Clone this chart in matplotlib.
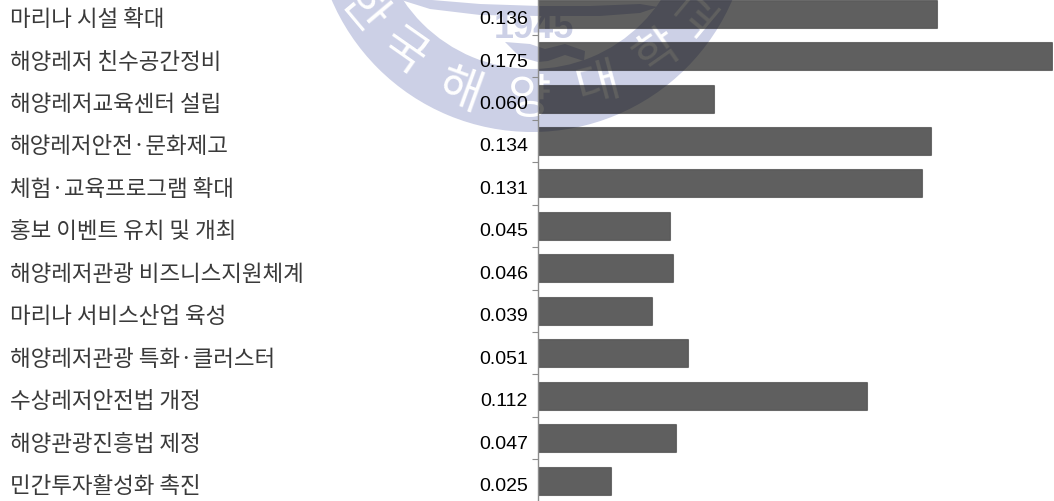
import matplotlib
matplotlib.use("Agg")
import matplotlib.pyplot as plt
from matplotlib.patches import Wedge

plt.rcParams["font.family"] = ["Noto Sans CJK KR", "DejaVu Sans"]

# ── Data ──────────────────────────────────────────────────────────────────────

labels = [
    "마리나 시설 확대",
    "해양레저 친수공간정비",
    "해양레저교육센터 설립",
    "해양레저안전·문화제고",
    "체험·교육프로그램 확대",
    "홍보 이벤트 유치 및 개최",
    "해양레저관광 비즈니스지원체계",
    "마리나 서비스산업 육성",
    "해양레저관광 특화·클러스터",
    "수상레저안전법 개정",
    "해양관광진흥법 제정",
    "민간투자활성화 촉진",
]
values = [0.136, 0.175, 0.060, 0.134, 0.131, 0.045, 0.046, 0.039, 0.051, 0.112, 0.047, 0.025]
value_text = [f"{v:.3f}" for v in values]

W, H = 1054, 502
fig = plt.figure(figsize=(W / 100, H / 100), dpi=100)

# ── Seal watermark sits underneath, in pixel coordinates ──────────────────────

seal = "#ccd0e6"
wm = fig.add_axes([0, 0, 1, 1], zorder=0)
wm.set_xlim(0, W)
wm.set_ylim(H, 0)
wm.axis("off")
wm.add_patch(Wedge((532, -85), 218, 0, 360, width=63, color=seal, lw=0))
wm.fill([398, 430, 480, 540, 600, 640, 658, 640, 590, 540, 480, 420],
        [0, 10, 16, 17, 17, 14, 8, 5, 7, 7, 5, 0], color=seal, lw=0)
wm.fill([505, 530, 545, 565, 585, 584, 565, 548, 538, 520],
        [43, 45, 50, 45, 52, 62, 56, 62, 63, 58], color=seal, lw=0)
wm.text(534, 28, "1945", fontsize=26, weight="bold", color=seal, ha="center", va="center",
        family="Liberation Sans")
for x, y, ch, rot in [(363, 10, "한", -50), (403, 52, "국", -35), (460, 91, "해", -20),
                      (530, 100, "양", 0), (598, 85, "대", 15), (657, 52, "학", 35),
                      (700, 15, "교", 50)]:
    wm.text(x, y, ch, fontsize=34, color="white", ha="center", va="center", rotation=rot)

# ── Bars: translucent black acts like multiply over the seal ──────────────────

# Axes spans x=538..1053 px; one category every 42.45 px
ax = fig.add_axes([538 / W, 0, (1053 - 538) / W, 1], zorder=1)
ax.patch.set_visible(False)
pitch = 42.45
ypos = list(range(len(values)))
ax.barh(ypos, values, height=28 / pitch, color=(0, 0, 0, 0.627), edgecolor=(0, 0, 0, 0.4),
        linewidth=0.8, zorder=2)
ax.set_xlim(0, 515 / 2935)
ax.set_ylim((502 - 14.6) / pitch, -14.6 / pitch)

for s in ["top", "right", "bottom"]:
    ax.spines[s].set_visible(False)
ax.spines["left"].set_color("#8c8c8c")
ax.spines["left"].set_linewidth(1.0)
ax.set_xticks([])
ax.set_yticks([i + 0.5 for i in ypos[:-1]])
ax.set_yticklabels([])
ax.tick_params(axis="y", length=4.3, width=0.8, color="#8c8c8c")

for y, lab, vt in zip(ypos, labels, value_text):
    ax.annotate(lab, (0, y), xycoords=("axes fraction", "data"), xytext=(-528, -5),
                textcoords="offset pixels", ha="left", va="center", fontsize=16.2, color="#3a3a3a")
    ax.annotate(vt, (0, y), xycoords=("axes fraction", "data"), xytext=(-10, -5),
                textcoords="offset pixels", ha="right", va="center",
                fontsize=14, color="black", family="Liberation Sans")

fig.savefig("out.png", dpi=100)
